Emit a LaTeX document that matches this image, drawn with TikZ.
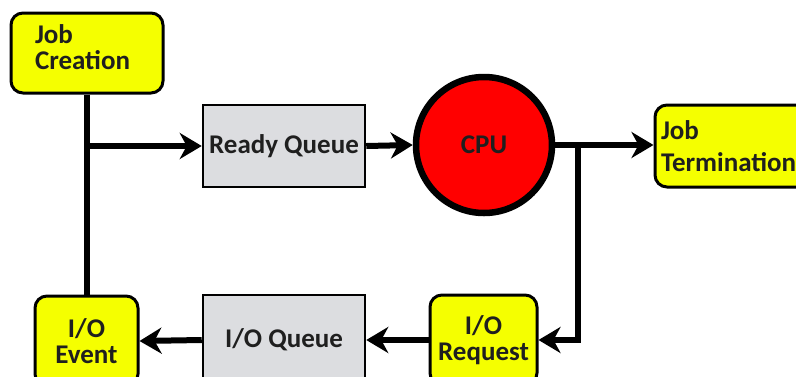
\documentclass[tikz,border=0pt]{standalone}
\usepackage{fontspec}
\setmainfont{Carlito}
\usetikzlibrary{arrows.meta}
\definecolor{boxyellow}{RGB}{245,255,0}
\definecolor{queuegray}{RGB}{220,221,224}
\definecolor{cpured}{RGB}{255,0,0}
\begin{document}
\begin{tikzpicture}[x=1pt,y=-1pt,
  every node/.style={font=\fontsize{27}{25}\selectfont\bfseries,text=black!88},
  jobbox/.style={draw,line width=3pt,fill=boxyellow,rounded corners=12pt},
  queuebox/.style={draw,line width=2.5pt,fill=queuegray,minimum width=162pt},
  flow/.style={line width=6pt,-{Stealth[length=22pt,width=26pt,inset=7pt]}}]
\useasboundingbox (0,0) rectangle (796,376);
\clip (0,0) rectangle (796,376);
%
\node[jobbox,align=left,inner xsep=24pt,text width=104pt,minimum height=80pt]
  (jobc) at (87,53) {\raisebox{2pt}[\height][\depth]{%
  \begin{tabular}{@{}l@{}}Job\\Creation\end{tabular}}};
\node[jobbox,align=left,inner xsep=6pt,text width=160pt,minimum height=82pt,
  font=\fontsize{27}{32}\selectfont\bfseries] (jobt) at (741,146) {Job\\Termination};
%
\node[queuebox,minimum height=82pt] (rq) at (284,146) {Ready Queue};
\node[draw,circle,line width=6.5pt,fill=cpured,minimum size=136pt] (cpu) at (484,145) {CPU};
%
\node[jobbox,align=center,minimum width=107pt,minimum height=90pt,
  font=\fontsize{27}{26}\selectfont\bfseries] (ioreq) at (483.5,340) {I/O\\Request};
\node[queuebox,minimum height=90pt] (ioq) at (284,340) {I/O Queue};
\node[jobbox,align=center,minimum width=103pt,minimum height=90pt,
  font=\fontsize{27}{26}\selectfont\bfseries] (ioev) at (86.5,341) {I/O\\Event};
%
\coordinate (split) at (jobc.south |- rq.west);
\coordinate (tap) at (578,145);
%
\draw[line width=6pt] (jobc.south) -- (jobc.south |- ioev.north);
\draw[flow] (split) -- (rq.west);
\draw[flow] (rq.east) -- (cpu.west);
\draw[flow] (cpu.east) -- (cpu.east -| jobt.west);
\draw[flow] (tap) |- (ioreq.east);
\draw[flow] (ioreq.west) -- (ioq.east);
\draw[flow] (ioq.west) -- (ioev.east);
\end{tikzpicture}
\end{document}
